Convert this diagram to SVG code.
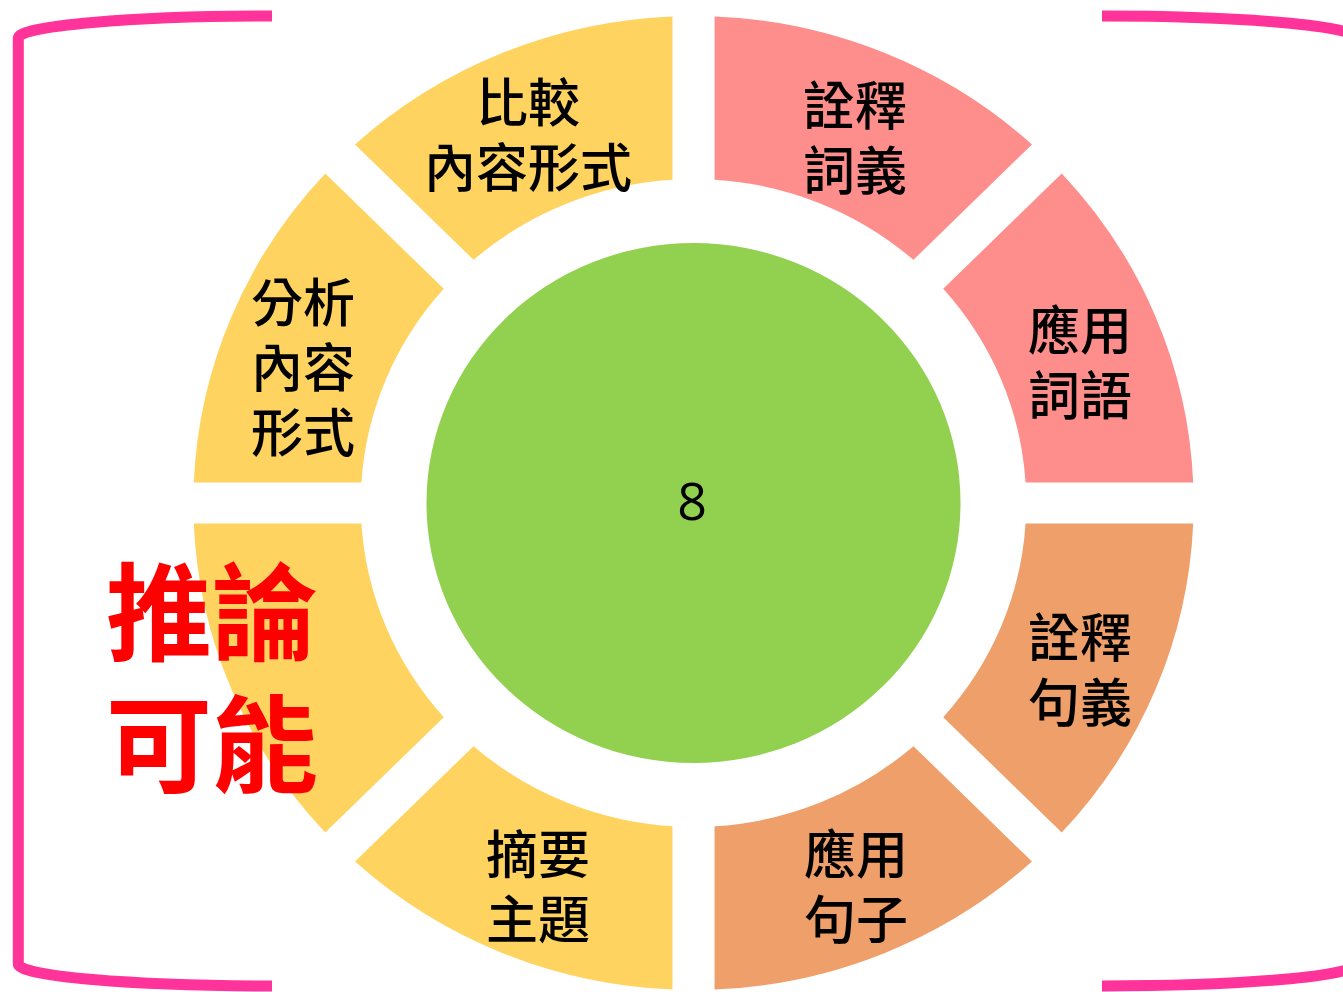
<svg xmlns="http://www.w3.org/2000/svg" width="1343" height="992" viewBox="0 0 1343 992">
  <style>
    .yel { fill: #FED35F; }
    .pnk { fill: #FE8E8C; }
    .org { fill: #EF9F69; }
    .lbl { font-family: "Noto Sans CJK TC", "Noto Sans CJK SC", sans-serif; font-size: 52px; font-weight: 500; fill: #000; text-anchor: middle; }
    .red { font-family: "Noto Sans CJK TC", "Noto Sans CJK SC", sans-serif; font-size: 106px; font-weight: 700; fill: #FF0000; text-anchor: middle; }
    .num { font-family: "Open Sans", "Noto Sans", sans-serif; font-size: 52px; fill: #000; text-anchor: middle; }
    .brk { fill: none; stroke: #FF3399; stroke-width: 11; }
  </style>
  <rect width="1343" height="992" fill="#FFFFFF"/>
  <g id="brackets">
    <path class="brk" d="M 272 16 A 253.7 22 0 0 0 18.3 38 L 18.3 964 A 253.7 22 0 0 0 272 986"/>
    <path class="brk" d="M 1102 16 A 253.7 22 0 0 1 1355.7 38 L 1355.7 964 A 253.7 22 0 0 1 1102 986"/>
  </g>
  <g id="ring" transform="translate(693.5,503) scale(1.027,1)">
    <g id="seg-quanshi-juyi"><path class="org" d="M 323.351 20.5 L 486.568 20.5 A 487 487 0 0 1 358.552 329.561 L 243.140 214.148 A 324 324 0 0 0 323.351 20.5 Z"/></g>
    <g id="seg-yingyong-juzi"><path class="org" d="M 214.148 243.140 L 329.561 358.552 A 487 487 0 0 1 20.5 486.568 L 20.5 323.351 A 324 324 0 0 0 214.148 243.140 Z"/></g>
    <g id="seg-zhaiyao-zhuti"><path class="yel" d="M -20.5 323.351 L -20.5 486.568 A 487 487 0 0 1 -329.561 358.552 L -214.148 243.140 A 324 324 0 0 0 -20.5 323.351 Z"/></g>
    <g id="seg-tuilun"><path class="yel" d="M -243.140 214.148 L -358.552 329.561 A 487 487 0 0 1 -486.568 20.5 L -323.351 20.5 A 324 324 0 0 0 -243.140 214.148 Z"/></g>
    <g id="seg-fenxi"><path class="yel" d="M -323.351 -20.5 L -486.568 -20.5 A 487 487 0 0 1 -358.552 -329.561 L -243.140 -214.148 A 324 324 0 0 0 -323.351 -20.5 Z"/></g>
    <g id="seg-bijiao"><path class="yel" d="M -214.148 -243.140 L -329.561 -358.552 A 487 487 0 0 1 -20.5 -486.568 L -20.5 -323.351 A 324 324 0 0 0 -214.148 -243.140 Z"/></g>
    <g id="seg-quanshi-ciyi"><path class="pnk" d="M 20.5 -323.351 L 20.5 -486.568 A 487 487 0 0 1 329.561 -358.552 L 214.148 -243.140 A 324 324 0 0 0 20.5 -323.351 Z"/></g>
    <g id="seg-yingyong-ciyu"><path class="pnk" d="M 243.140 -214.148 L 358.552 -329.561 A 487 487 0 0 1 486.568 -20.5 L 323.351 -20.5 A 324 324 0 0 0 243.140 -214.148 Z"/></g>
    <g id="center"><circle cx="0" cy="0" r="260" fill="#92D050"/></g>
  </g>
  <g id="connectors"/>
  <g id="labels">
    <g id="label-bijiao"><text class="lbl" x="528" y="122">比較</text><text class="lbl" x="528" y="187">內容形式</text></g>
    <g id="label-fenxi"><text class="lbl" x="303" y="322">分析</text><text class="lbl" x="303" y="387">內容</text><text class="lbl" x="303" y="452">形式</text></g>
    <g id="label-quanshi-ciyi"><text class="lbl" x="855" y="125">詮釋</text><text class="lbl" x="855" y="190">詞義</text></g>
    <g id="label-yingyong-ciyu"><text class="lbl" x="1080" y="350">應用</text><text class="lbl" x="1080" y="415">詞語</text></g>
    <g id="label-quanshi-juyi"><text class="lbl" x="1080" y="657">詮釋</text><text class="lbl" x="1080" y="722">句義</text></g>
    <g id="label-yingyong-juzi"><text class="lbl" x="856" y="874">應用</text><text class="lbl" x="856" y="939">句子</text></g>
    <g id="label-zhaiyao-zhuti"><text class="lbl" x="538" y="874">摘要</text><text class="lbl" x="538" y="939">主題</text></g>
    <g id="label-tuilun"><text class="red" x="212" y="652">推論</text><text class="red" x="212" y="784">可能</text></g>
    <g id="label-center"><text class="num" x="692" y="520">8</text></g>
  </g>
</svg>
